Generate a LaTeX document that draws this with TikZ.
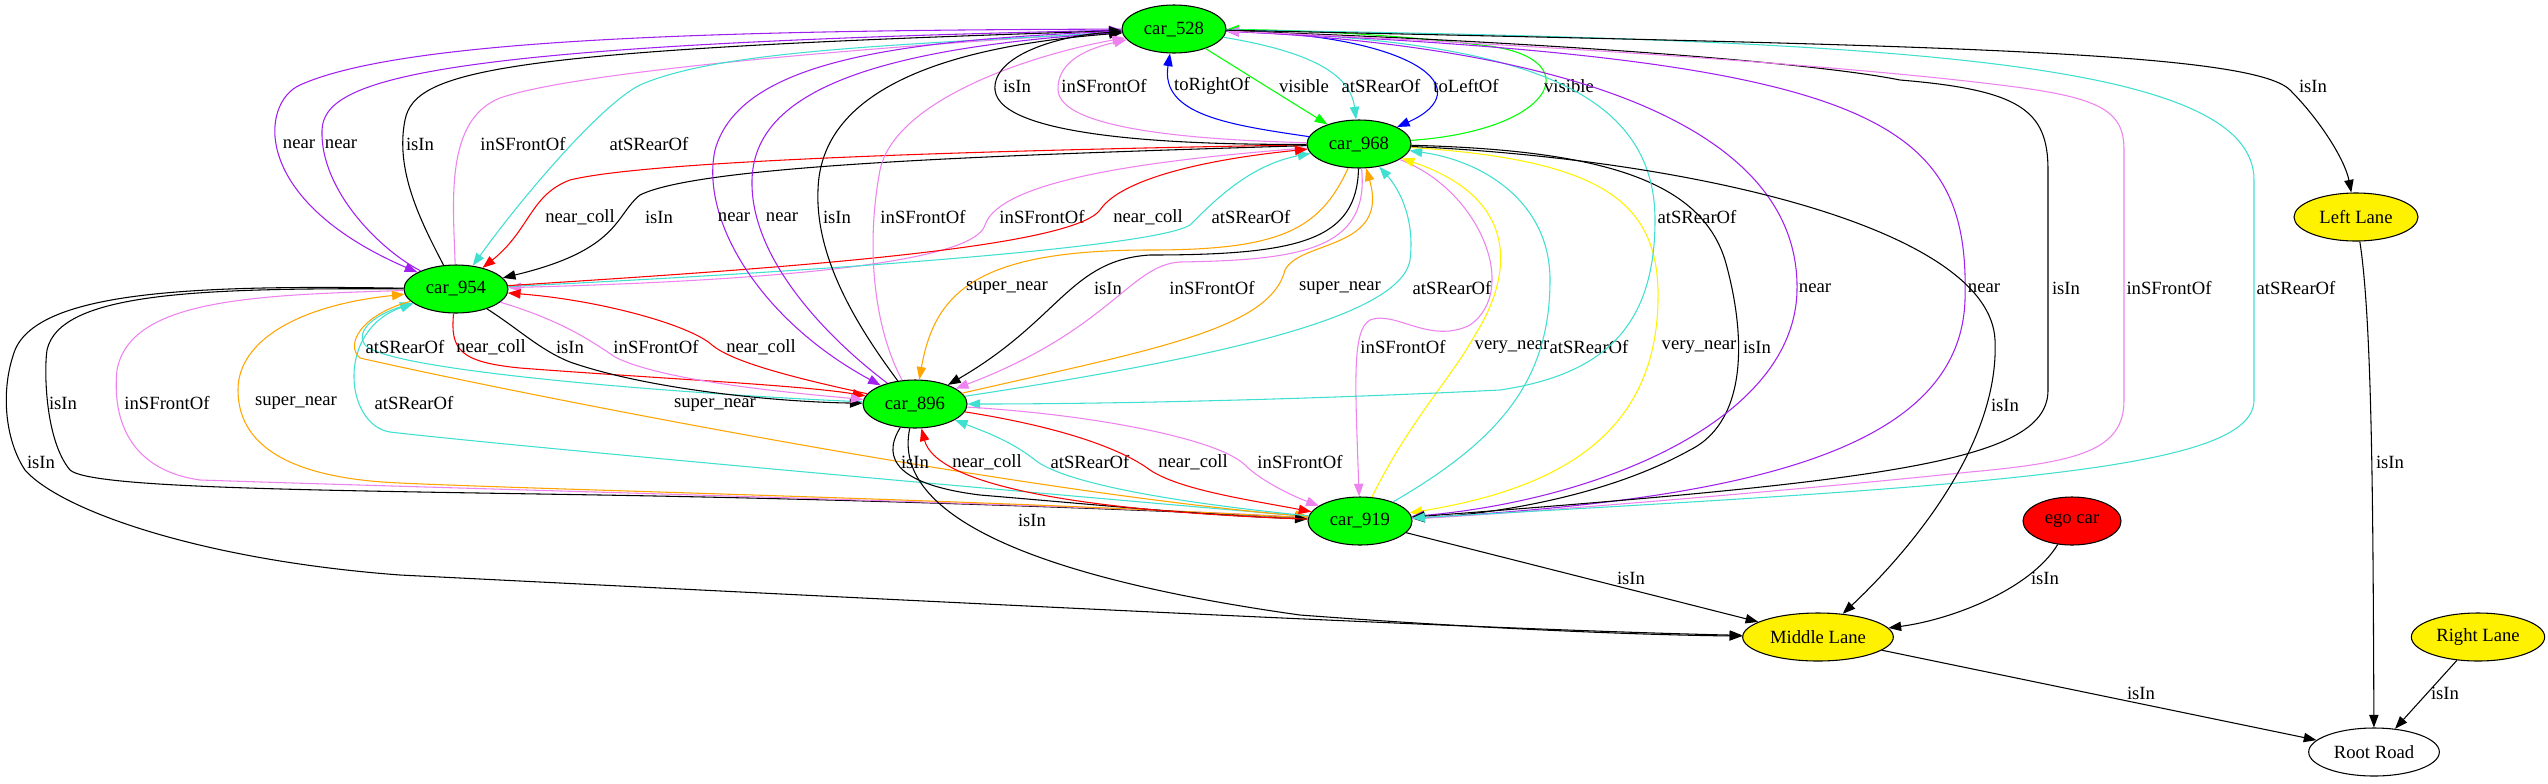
\documentclass[tikz,border=0pt]{standalone}
\usepackage{fontspec}
\setmainfont{Liberation Serif}
\usetikzlibrary{arrows.meta,shapes.geometric}
\definecolor{gvgreen}{HTML}{00FF00}
\definecolor{gvpurple}{HTML}{A020F0}
\definecolor{gvviolet}{HTML}{EE82EE}
\definecolor{gvturq}{HTML}{40E0D0}
\definecolor{gvorange}{HTML}{FFA500}

\begin{document}
\begin{tikzpicture}[x=0.75pt,y=-0.75pt,font=\fontsize{14}{16}\selectfont,
	car/.style={ellipse,draw,line width=0.8pt,fill=gvgreen,minimum width=78pt,minimum height=36pt,inner sep=0pt},
	lane/.style={ellipse,draw,line width=0.8pt,fill=yellow,minimum height=36pt,inner sep=0pt},
	rel/.style={line width=0.8pt,-{Triangle[length=9.5pt,width=7pt]}},
	lbl/.style={text=black,inner sep=0pt}]
\path[use as bounding box,fill=white] (0,0) rectangle (2548,783);

\node[car] (c528) at (1174,29) {car\_528};
\node[car] (c968) at (1359,144) {car\_968};
\node[car] (c954) at (456,289) {car\_954};
\node[car] (c896) at (915,404) {car\_896};
\node[car] (c919) at (1360,521) {car\_919};
\node[lane,minimum width=93pt] (leftlane) at (2356,217) {Left Lane};
\node[lane,fill=red,minimum width=73.5pt] (egocar) at (2072,521) {ego car};
\node[lane,minimum width=113pt] (midlane) at (1818,637) {Middle Lane};
\node[lane,minimum width=100pt] (rightlane) at (2478,637) {Right Lane};
\node[lane,fill=white,minimum width=98pt] (rootroad) at (2374,752) {Root Road};

\draw[rel,gvpurple] (c528) .. controls (700,30) and (400,40) .. (300,85) .. controls (260,103) and (250,200) .. (c954) node[lbl] (l1) at (299,144) {near};
\draw[rel,gvpurple] (c954) .. controls (380,250) and (320,190) .. (322,130) .. controls (324,80) and (420,45) .. (c528) node[lbl] (l2) at (341,144) {near};
\draw[rel] (c954) .. controls (420,220) and (395,170) .. (405,120) .. controls (415,70) and (500,50) .. (c528) node[lbl] (l3) at (420,144) {isIn};
\draw[rel,gvviolet] (c954) .. controls (453,200) and (445,120) .. (500,98) .. controls (580,70) and (900,45) .. (c528) node[lbl] (l4) at (523,144) {inSFrontOf};
\draw[rel,gvturq] (c528) .. controls (900,45) and (720,50) .. (640,85) .. controls (600,105) and (520,200) .. (c954) node[lbl] (l5) at (649,144) {atSRearOf};
\draw[rel,red] (c968) .. controls (1000,150) and (650,160) .. (570,180) .. controls (530,195) and (530,230) .. (c954) node[lbl] (l6) at (580,217) {near\_coll};
\draw[rel] (c968) .. controls (1000,155) and (700,165) .. (640,195) .. controls (615,215) and (620,250) .. (c954) node[lbl] (l7) at (659,217) {isIn};
\draw[rel,gvviolet] (c968) .. controls (1150,160) and (1000,180) .. (985,225) .. controls (975,260) and (800,280) .. (c954) node[lbl] (l8) at (1042,217) {inSFrontOf};
\draw[rel,gvturq] (c954) .. controls (750,275) and (1150,250) .. (1190,225) .. controls (1215,200) and (1250,165) .. (c968) node[lbl] (l9) at (1251,217) {atSRearOf};
\draw[rel,red] (c954) .. controls (750,270) and (1070,250) .. (1100,210) .. controls (1120,180) and (1200,160) .. (c968) node[lbl] (l10) at (1148,217) {near\_coll};
\draw[rel,gvpurple] (c528) .. controls (900,40) and (740,60) .. (715,150) .. controls (700,220) and (760,320) .. (c896) node[lbl] (l11) at (734,217) {near};
\draw[rel,gvpurple] (c896) .. controls (830,340) and (750,260) .. (752,180) .. controls (754,100) and (850,50) .. (c528) node[lbl] (l12) at (782,217) {near};
\draw[rel] (c896) .. controls (860,330) and (815,260) .. (818,190) .. controls (820,110) and (900,50) .. (c528) node[lbl] (l13) at (837,217) {isIn};
\draw[rel,gvviolet] (c896) .. controls (875,330) and (865,250) .. (880,170) .. controls (895,100) and (1030,55) .. (c528) node[lbl] (l14) at (923,217) {inSFrontOf};
\draw[rel] (c968) .. controls (1200,145) and (1000,140) .. (995,90) .. controls (992,55) and (1060,35) .. (c528) node[lbl] (l15) at (1017,86) {isIn};
\draw[rel,gvviolet] (c968) .. controls (1200,140) and (1060,130) .. (1058,90) .. controls (1057,60) and (1090,48) .. (c528) node[lbl] (l16) at (1104,86) {inSFrontOf};
\draw[rel,blue] (c968) .. controls (1230,125) and (1160,115) .. (c528) node[lbl] (l17) at (1212,86) {toRightOf};
\draw[rel,gvgreen] (c528) -- (c968) node[lbl] (l18) at (1304,86) {visible};
\draw[rel,gvturq] (c528) .. controls (1300,50) and (1350,70) .. (c968) node[lbl] (l19) at (1381,86) {atSRearOf};
\draw[rel,blue] (c528) .. controls (1420,35) and (1480,90) .. (c968) node[lbl] (l20) at (1466,86) {toLeftOf};
\draw[rel,gvgreen] (c968) .. controls (1560,130) and (1590,55) .. (1480,45) .. controls (1400,35) and (1300,30) .. (c528) node[lbl] (l21) at (1569,86) {visible};
\draw[rel,gvorange] (c968) .. controls (1320,230) and (1280,250) .. (1150,250) .. controls (980,250) and (935,290) .. (c896) node[lbl] (l22) at (1007,288) {super\_near};
\draw[rel] (c968) .. controls (1357,240) and (1300,255) .. (1150,255) .. controls (1070,260) and (1060,320) .. (c896) node[lbl] (l23) at (1108,288) {isIn};
\draw[rel,gvviolet] (c968) .. controls (1370,250) and (1300,260) .. (1180,262) .. controls (1130,265) and (1110,330) .. (c896) node[lbl] (l24) at (1212,288) {inSFrontOf};
\draw[rel,gvorange] (c896) .. controls (1150,350) and (1270,330) .. (1285,270) .. controls (1300,240) and (1390,250) .. (c968) node[lbl] (l25) at (1340,288) {super\_near};
\draw[rel,gvturq] (c896) .. controls (1200,360) and (1400,320) .. (1410,260) .. controls (1415,220) and (1400,190) .. (c968) node[lbl] (l26) at (1452,288) {atSRearOf};
\draw[rel,gvviolet] (c968) .. controls (1480,190) and (1520,290) .. (1470,325) .. controls (1430,345) and (1395,310) .. (1370,320) .. controls (1352,330) and (1355,380) .. (c919) node[lbl] (l27) at (1403,347) {inSFrontOf};
\draw[rel,yellow] (c919) .. controls (1410,420) and (1450,380) .. (1475,335) .. controls (1510,280) and (1525,200) .. (c968) node[lbl] (l28) at (1512,347) {very\_near};
\draw[rel,gvturq] (c919) .. controls (1500,440) and (1550,380) .. (1550,280) .. controls (1550,200) and (1480,160) .. (c968) node[lbl] (l29) at (1589,347) {atSRearOf};
\draw[rel,yellow] (c968) .. controls (1600,160) and (1660,200) .. (1658,300) .. controls (1656,440) and (1550,490) .. (c919) node[lbl] (l30) at (1699,347) {very\_near};
\draw[rel] (c968) .. controls (1600,150) and (1700,180) .. (1725,260) .. controls (1745,330) and (1750,420) .. (1690,450) .. controls (1600,500) and (1480,515) .. (c919) node[lbl] (l31) at (1757,347) {isIn};
\draw[rel,gvturq] (c528) .. controls (1500,40) and (1655,80) .. (1655,220) .. controls (1655,330) and (1600,375) .. (1500,390) .. controls (1300,400) and (1100,404) .. (c896) node[lbl] (l32) at (1697,217) {atSRearOf};
\draw[rel,gvpurple] (c528) .. controls (1550,45) and (1800,120) .. (1797,290) .. controls (1795,420) and (1600,500) .. (c919) node[lbl] (l33) at (1815,288) {near};
\draw[rel,gvpurple] (c919) .. controls (1750,500) and (1960,450) .. (1965,300) .. controls (1970,120) and (1880,60) .. (c528) node[lbl] (l34) at (1984,288) {near};
\draw[rel] (c528) .. controls (1500,40) and (1800,60) .. (1900,80) .. controls (2020,90) and (2048,110) .. (2048,170) -- (2048,390) .. controls (2048,460) and (1900,480) .. (c919) node[lbl] (l35) at (2066,288) {isIn};
\draw[rel,gvviolet] (c919) .. controls (1500,515) and (1800,490) .. (1970,472) .. controls (2080,462) and (2124,450) .. (2124,400) -- (2124,150) .. controls (2124,110) and (2100,97) .. (2000,85) .. controls (1800,60) and (1400,38) .. (c528) node[lbl] (l36) at (2169,288) {inSFrontOf};
\draw[rel,gvturq] (c528) .. controls (1900,40) and (2254,60) .. (2254,180) -- (2254,400) .. controls (2254,470) and (2000,485) .. (c919) node[lbl] (l37) at (2296,288) {atSRearOf};
\draw[rel] (c528) .. controls (1900,45) and (2250,50) .. (2290,90) .. controls (2320,120) and (2345,160) .. (leftlane) node[lbl] (l38) at (2313,86) {isIn};
\draw[rel] (c968) .. controls (1700,160) and (1990,230) .. (1995,340) .. controls (2000,450) and (1900,560) .. (midlane) node[lbl] (l39) at (2005,405) {isIn};
\draw[rel,gvturq] (c896) .. controls (700,395) and (390,372) .. (365,345) .. controls (355,330) and (375,315) .. (c954) node[lbl] (l40) at (405,347) {atSRearOf};
\draw[rel,red] (c954) .. controls (450,350) and (460,362) .. (520,368) .. controls (650,378) and (800,385) .. (c896) node[lbl] (l41) at (491,347) {near\_coll};
\draw[rel] (c954) .. controls (520,330) and (540,350) .. (570,362) .. controls (650,390) and (780,402) .. (c896) node[lbl] (l42) at (570,347) {isIn};
\draw[rel,gvviolet] (c954) .. controls (560,320) and (590,340) .. (615,357) .. controls (660,380) and (780,392) .. (c896) node[lbl] (l43) at (656,347) {inSFrontOf};
\draw[rel,red] (c896) .. controls (780,375) and (730,360) .. (712,345) .. controls (690,325) and (600,300) .. (c954) node[lbl] (l44) at (761,347) {near\_coll};
\draw[rel] (c954) .. controls (200,288) and (60,292) .. (47,350) .. controls (44,370) and (45,440) .. (70,470) .. controls (90,488) and (300,490) .. (600,495) .. controls (900,500) and (1200,512) .. (c919) node[lbl] (l45) at (63,403) {isIn};
\draw[rel,gvviolet] (c954) .. controls (250,295) and (130,300) .. (117,370) .. controls (112,420) and (130,470) .. (200,480) .. controls (500,490) and (1100,505) .. (c919) node[lbl] (l46) at (167,403) {inSFrontOf};
\draw[rel,gvorange] (c919) .. controls (1000,500) and (550,490) .. (400,483) .. controls (280,478) and (238,440) .. (238,390) .. controls (238,340) and (300,305) .. (c954) node[lbl] (l47) at (296,403) {super\_near};
\draw[rel,gvturq] (c919) .. controls (1000,490) and (500,445) .. (390,432) .. controls (345,425) and (335,330) .. (c954) node[lbl] (l48) at (414,403) {atSRearOf};
\draw[rel,gvorange] (c954) .. controls (360,315) and (345,345) .. (360,358) .. controls (500,390) and (1000,490) .. (c919) node[lbl] (l49) at (715,405) {super\_near};
\draw[rel] (c896) .. controls (880,460) and (900,485) .. (980,495) .. controls (1100,505) and (1200,515) .. (c919) node[lbl] (l50) at (915,462) {isIn};
\draw[rel,red] (c919) .. controls (1050,510) and (935,480) .. (c896) node[lbl] (l51) at (987,462) {near\_coll};
\draw[rel,gvturq] (c919) .. controls (1150,500) and (1060,480) .. (1035,460) .. controls (1010,440) and (980,430) .. (c896) node[lbl] (l52) at (1090,462) {atSRearOf};
\draw[rel,red] (c896) .. controls (1080,430) and (1130,455) .. (1150,470) .. controls (1180,490) and (1250,500) .. (c919) node[lbl] (l53) at (1193,462) {near\_coll};
\draw[rel,gvviolet] (c896) .. controls (1100,415) and (1220,440) .. (1245,465) .. controls (1260,480) and (1290,495) .. (c919) node[lbl] (l54) at (1300,462) {inSFrontOf};
\draw[rel] (c896) .. controls (890,520) and (1050,580) .. (1300,615) .. controls (1500,630) and (1650,635) .. (midlane) node[lbl] (l55) at (1032,520) {isIn};
\draw[rel] (c919) -- (midlane) node[lbl] (l56) at (1631,578) {isIn};
\draw[rel] (c954) .. controls (200,285) and (40,290) .. (15,350) .. controls (0,390) and (5,440) .. (25,470) .. controls (60,510) and (200,560) .. (400,575) .. controls (1000,605) and (1500,630) .. (midlane) node[lbl] (l57) at (41,462) {isIn};
\draw[rel] (egocar) .. controls (2030,590) and (1950,620) .. (midlane) node[lbl] (l58) at (2045,578) {isIn};
\draw[rel] (midlane) -- (rootroad) node[lbl] (l59) at (2141,693) {isIn};
\draw[rel] (leftlane) .. controls (2372,320) and (2373,500) .. (rootroad) node[lbl] (l60) at (2390,462) {isIn};
\draw[rel] (rightlane) -- (rootroad) node[lbl] (l61) at (2445,693) {isIn};
\end{tikzpicture}
\end{document}
